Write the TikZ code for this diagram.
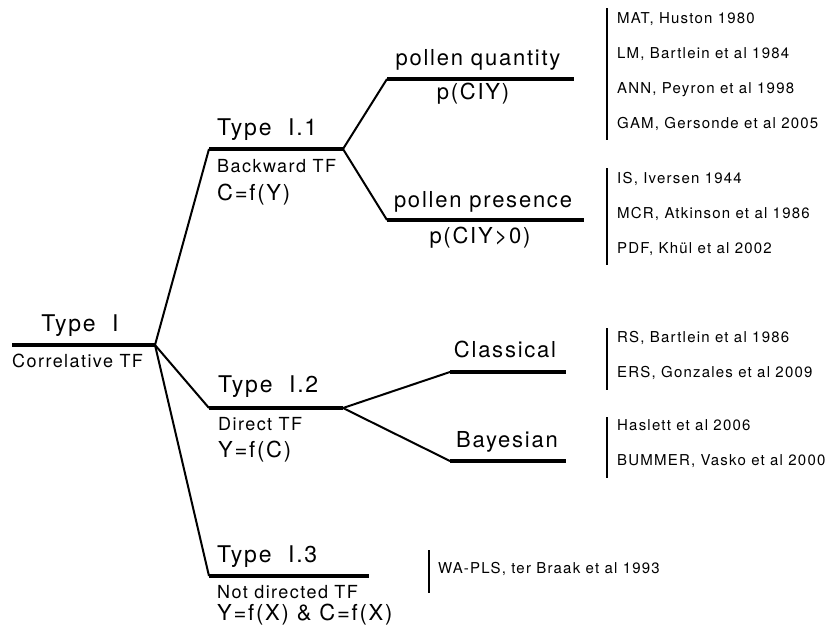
\documentclass[tikz,border=0pt]{standalone}
\usepackage{fontspec}
\setmainfont{TeX Gyre Heros}[LetterSpace=8]

\begin{document}
\begin{tikzpicture}[x=1pt,y=-1pt,
	branch/.style={line width=3.3pt},
	link/.style={line width=2pt},
	refbar/.style={line width=2.7pt},
	head/.style={font=\fontsize{23}{27}\selectfont,inner sep=0pt,anchor=base west},
	lbl/.style={font=\fontsize{22}{26}\selectfont,inner sep=0pt,anchor=base},
	sub/.style={font=\fontsize{18}{22}\selectfont,inner sep=0pt,anchor=base west},
	eqn/.style={font=\fontsize{22}{26}\selectfont,inner sep=0pt,anchor=base west},
	reftxt/.style={font=\fontsize{15}{18}\selectfont,inner sep=0pt,anchor=base west}]
	\useasboundingbox (0,0) rectangle (835,630);
	%
	\coordinate (r0) at (12,345);  \coordinate (r1) at (155,345);
	\coordinate (a0) at (209,149); \coordinate (a1) at (343,149);
	\coordinate (b0) at (209,408); \coordinate (b1) at (343,408);
	\coordinate (c0) at (209,576); \coordinate (c1) at (369,576);
	\coordinate (q0) at (387,79);  \coordinate (q1) at (574,79);
	\coordinate (p0) at (387,220); \coordinate (p1) at (584,220);
	\coordinate (k0) at (450,372); \coordinate (k1) at (566,372);
	\coordinate (y0) at (450,461); \coordinate (y1) at (566,461);
	%
	\draw[branch] (r0) -- (r1);
	\draw[branch] (a0) -- (a1);
	\draw[branch] (b0) -- (b1);
	\draw[branch] (c0) -- (c1);
	\draw[branch] (q0) -- (q1);
	\draw[branch] (p0) -- (p1);
	\draw[branch] (k0) -- (k1);
	\draw[branch] (y0) -- (y1);
	%
	\draw[link] (r1) -- (a0);
	\draw[link] (r1) -- (b0);
	\draw[link] (r1) -- (c0);
	\draw[link] (a1) -- (q0);
	\draw[link] (a1) -- (p0);
	\draw[link] (b1) -- (k0);
	\draw[link] (b1) -- (y0);
	%
	\node[head,anchor=base] (ti) at (80,331) {Type\ \ I};
	\node[sub] (tis) at (12,367) {Correlative TF};
	\node[head] (t1) at (217,135) {Type\ \ I.1};
	\node[sub] (t1s) at (217,172) {Backward TF};
	\node[eqn] (t1f) at (217,200) {C=f(Y)};
	\node[head] (t2) at (218,392) {Type\ \ I.2};
	\node[sub] (t2s) at (218,430) {Direct TF};
	\node[eqn] (t2f) at (218,457) {Y=f(C)};
	\node[head] (t3) at (217,562) {Type\ \ I.3};
	\node[sub] (t3s) at (217,598) {Not directed TF};
	\node[eqn] (t3f) at (217,620) {Y=f(X) \& C=f(X)};
	%
	\node[lbl] (pq) at (478,65) {pollen quantity};
	\node[lbl] (pqf) at (473,99) {p(CIY)};
	\node[lbl] (pp) at (483,207) {pollen presence};
	\node[lbl] (ppf) at (480,243) {p(CIY>0)};
	\node[lbl] (cl) at (505,357) {Classical};
	\node[lbl] (ba) at (507,447) {Bayesian};
	%
	\node[reftxt] (mat) at (617,23) {MAT, Huston 1980};
	\node[reftxt] (lm) at (617,58) {LM, Bartlein et al 1984};
	\node[reftxt] (ann) at (617,93) {ANN, Peyron et al 1998};
	\node[reftxt] (gam) at (617,128) {GAM, Gersonde et al 2005};
	\node[reftxt] (is) at (617,183) {IS, Iversen 1944};
	\node[reftxt] (mcr) at (617,218) {MCR, Atkinson et al 1986};
	\node[reftxt] (pdf) at (617,253) {PDF, Khül et al 2002};
	\node[reftxt] (rs) at (617,342) {RS, Bartlein et al 1986};
	\node[reftxt] (ers) at (617,377) {ERS, Gonzales et al 2009};
	\node[reftxt] (has) at (617,430) {Haslett et al 2006};
	\node[reftxt] (bum) at (617,465) {BUMMER, Vasko et al 2000};
	\node[reftxt] (wa) at (438,573) {WA-PLS, ter Braak et al 1993};
	%
	\draw[refbar] (607,8) -- (607,140);
	\draw[refbar] (607,168) -- (607,265);
	\draw[refbar] (607,328) -- (607,390);
	\draw[refbar] (607,417) -- (607,478);
	\draw[refbar] (429,550) -- (429,593);
\end{tikzpicture}
\end{document}
